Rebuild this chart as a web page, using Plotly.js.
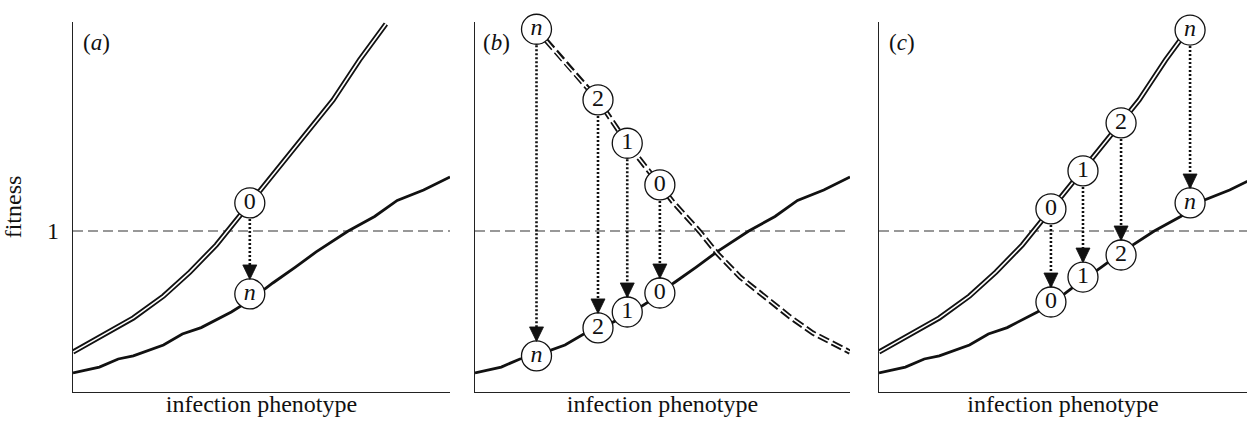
<!DOCTYPE html>
<html>
<head>
<meta charset="utf-8">
<script src="https://cdn.plot.ly/plotly-3.0.1.min.js"></script>
<style>
  html, body { margin: 0; padding: 0; background: #fff; }
  #chart { width: 1247px; height: 434px; }
</style>
</head>
<body>
<div id="chart"></div>
<script>
// ---- data (x: infection phenotype 0-100, y: fitness, dashed reference at 1) ----
var lowerX = [0, 7, 12, 16, 24, 29, 34, 42, 47, 53, 59, 64.5, 73, 80, 86, 93, 100];
var lowerY = [0.118, 0.155, 0.205, 0.224, 0.292, 0.36, 0.40, 0.497, 0.57, 0.677, 0.776, 0.870, 1.0, 1.09, 1.19, 1.255, 1.335];

var upperX = [0, 7, 16, 24, 31, 38, 41, 47, 52, 60, 69, 76, 83];
var upperY = [0.248, 0.342, 0.460, 0.596, 0.745, 0.913, 1.0, 1.174, 1.317, 1.553, 1.814, 2.062, 2.286];

var declineX = [16.3, 24.5, 32.8, 40.5, 49.3, 52.8, 60, 64.5, 70.7, 76, 84, 90.1, 100];
var declineY = [2.255, 2.031, 1.814, 1.547, 1.286, 1.180, 0.994, 0.863, 0.714, 0.615, 0.466, 0.366, 0.248];

// labelled points: upper (before) -> lower (after)
var aPtX = [46.9];
var aTopY = [1.174];
var aBotY = [0.609];
var aTopLab = ['0'];
var aBotLab = ['<i>n</i>'];

var bPtX = [16.4, 32.8, 40.6, 49.3];
var bTopY = [2.253, 1.814, 1.545, 1.286];
var bBotY = [0.224, 0.398, 0.497, 0.615];
var bLab = ['<i>n</i>', '2', '1', '0'];

var cPtX = [45.6, 54.1, 64.2, 82.5];
var cTopY = [1.137, 1.373, 1.671, 2.248];
var cBotY = [0.559, 0.714, 0.851, 1.174];
var cLab = ['0', '1', '2', '<i>n</i>'];

var panelLabels = ['(<i>a</i>)', '(<i>b</i>)', '(<i>c</i>)'];
var yTickVals = [1];
var yTickText = ['1'];
var xTitle = 'infection phenotype';
var yTitle = 'fitness';

// ---- styling ----
var FONT = 'Liberation Serif';
var INK = '#111';
var W = 1247, H = 434;
function px2fx(p) { return p / W; }
function px2fy(p) { return (H - p) / H; }

var traces = [];
var shapes = [];

function lowerCurve(xa, ya) {
  traces.push({x: lowerX, y: lowerY, xaxis: xa, yaxis: ya, mode: 'lines',
    line: {color: INK, width: 2.8}, hoverinfo: 'skip', showlegend: false});
}
function doubleLine(xs, ys, xa, ya, dashed) {
  traces.push({x: xs, y: ys, xaxis: xa, yaxis: ya, mode: 'lines',
    line: {color: INK, width: 5.2, dash: dashed ? '11px,4px' : 'solid'}, hoverinfo: 'skip', showlegend: false});
  traces.push({x: xs, y: ys, xaxis: xa, yaxis: ya, mode: 'lines',
    line: {color: '#fff', width: 1.6}, hoverinfo: 'skip', showlegend: false});
}
function arrows(xs, tops, bots, xa, ya) {
  var ax = [], ay = [];
  for (var i = 0; i < xs.length; i++) {
    ax.push(xs[i], xs[i], null);
    ay.push(tops[i], bots[i], null);
    shapes.push({type: 'path', xref: xa, yref: ya, xsizemode: 'pixel', ysizemode: 'pixel',
      xanchor: xs[i], yanchor: bots[i], path: 'M-7,29 L7,29 L0,14.5 Z',
      fillcolor: INK, line: {color: INK, width: 0.8}, layer: 'above'});
  }
  traces.push({x: ax, y: ay, xaxis: xa, yaxis: ya, mode: 'lines',
    line: {color: INK, width: 2.6, dash: '2px,2px'}, hoverinfo: 'skip', showlegend: false, connectgaps: false});
}
function circles(xs, ys, labs, xa, ya) {
  traces.push({x: xs, y: ys, xaxis: xa, yaxis: ya, mode: 'markers+text', text: labs,
    textposition: 'middle center', textfont: {family: FONT, size: 24, color: INK},
    marker: {size: 30, color: '#fff', line: {color: INK, width: 1.3}},
    cliponaxis: false, hoverinfo: 'skip', showlegend: false});
}

// panel a
lowerCurve('x', 'y');
doubleLine(upperX, upperY, 'x', 'y', false);
arrows(aPtX, aTopY, aBotY, 'x', 'y');
circles(aPtX, aTopY, aTopLab, 'x', 'y');
circles(aPtX, aBotY, aBotLab, 'x', 'y');

// panel b
lowerCurve('x2', 'y2');
doubleLine(declineX, declineY, 'x2', 'y2', true);
arrows(bPtX, bTopY, bBotY, 'x2', 'y2');
circles(bPtX, bTopY, bLab, 'x2', 'y2');
circles(bPtX, bBotY, bLab, 'x2', 'y2');

// panel c
lowerCurve('x3', 'y3');
doubleLine(upperX, upperY, 'x3', 'y3', false);
arrows(cPtX, cTopY, cBotY, 'x3', 'y3');
circles(cPtX, cTopY, cLab, 'x3', 'y3');
circles(cPtX, cBotY, cLab, 'x3', 'y3');

// dashed reference line at fitness = 1
['x', 'x2', 'x3'].forEach(function (xa, i) {
  var ya = i === 0 ? 'y' : 'y' + (i + 1);
  shapes.push({type: 'line', xref: xa + ' domain', yref: ya, x0: 0, x1: 1, y0: 1, y1: 1,
    line: {color: '#333', width: 1.2, dash: '10px,5px'}, layer: 'below'});
});

var yTop = px2fy(22), yBot = px2fy(392);
function xAxis(domain, rangeMax) {
  return {domain: domain, range: [0, rangeMax], showline: true, linecolor: '#222', linewidth: 1.3,
    showgrid: false, zeroline: false, ticks: '', showticklabels: false, fixedrange: true,
    title: {text: xTitle, font: {family: FONT, size: 24, color: INK}, standoff: 3}};
}
function yAxis(domain, withLabels) {
  var o = {domain: domain, range: [0, 2.298], showline: true, linecolor: '#222', linewidth: 1.3,
    showgrid: false, zeroline: false, ticks: '', fixedrange: true};
  if (withLabels) {
    o.tickvals = yTickVals; o.ticktext = yTickText; o.showticklabels = true;
    o.tickfont = {family: FONT, size: 24, color: INK};
    o.ticklabelstandoff = 8;
    o.title = {text: yTitle, font: {family: FONT, size: 24, color: INK}, standoff: 20};
  } else {
    o.showticklabels = false;
  }
  return o;
}

var layout = {
  width: W, height: H,
  margin: {l: 0, r: 0, t: 0, b: 0, pad: 0},
  paper_bgcolor: '#fff', plot_bgcolor: '#fff',
  font: {family: FONT, color: INK},
  showlegend: false,
  xaxis: Object.assign(xAxis([px2fx(73), px2fx(450)], 100), {anchor: 'y'}),
  yaxis: Object.assign(yAxis([yBot, yTop], true), {anchor: 'x'}),
  xaxis2: Object.assign(xAxis([px2fx(475), px2fx(850)], 100), {anchor: 'y2'}),
  yaxis2: Object.assign(yAxis([yBot, yTop], false), {anchor: 'x2'}),
  xaxis3: Object.assign(xAxis([px2fx(879), 1], 97.6), {anchor: 'y3'}),
  yaxis3: Object.assign(yAxis([yBot, yTop], false), {anchor: 'x3'}),
  shapes: shapes,
  annotations: [
    {text: panelLabels[0], xref: 'paper', yref: 'paper', x: px2fx(81), y: px2fy(43), xanchor: 'left', yanchor: 'middle', showarrow: false, font: {family: FONT, size: 23, color: INK}},
    {text: panelLabels[1], xref: 'paper', yref: 'paper', x: px2fx(481), y: px2fy(43), xanchor: 'left', yanchor: 'middle', showarrow: false, font: {family: FONT, size: 23, color: INK}},
    {text: panelLabels[2], xref: 'paper', yref: 'paper', x: px2fx(887), y: px2fy(43), xanchor: 'left', yanchor: 'middle', showarrow: false, font: {family: FONT, size: 23, color: INK}}
  ]
};

Plotly.newPlot('chart', traces, layout, {displayModeBar: false, staticPlot: true});
</script>
</body>
</html>
